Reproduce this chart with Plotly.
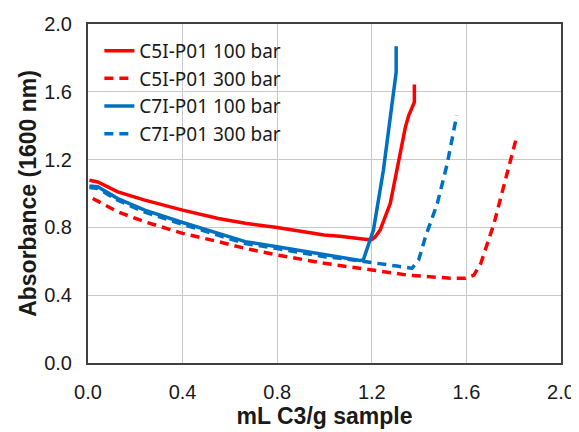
import plotly.graph_objects as go

# C5I-P01 100 bar
c5_100_x = [0.006, 0.041, 0.126, 0.24, 0.4, 0.551, 0.665, 0.8, 0.998, 1.065, 1.18, 1.2, 1.215, 1.235, 1.278, 1.313, 1.342, 1.356, 1.38, 1.38]
c5_100_y = [1.078, 1.068, 1.01, 0.961, 0.902, 0.853, 0.824, 0.8, 0.755, 0.748, 0.728, 0.728, 0.745, 0.784, 0.941, 1.176, 1.392, 1.46, 1.539, 1.643]
# C5I-P01 300 bar
c5_300_x = [0.02, 0.126, 0.24, 0.4, 0.551, 0.665, 0.8, 1.0, 1.2, 1.306, 1.349, 1.533, 1.597, 1.632, 1.661, 1.717, 1.774, 1.813]
c5_300_y = [0.971, 0.892, 0.833, 0.765, 0.716, 0.676, 0.637, 0.588, 0.549, 0.529, 0.519, 0.5, 0.5, 0.519, 0.588, 0.824, 1.137, 1.337]
# C7I-P01 100 bar
c7_100_x = [0.006, 0.041, 0.126, 0.24, 0.4, 0.551, 0.665, 0.8, 1.0, 1.15, 1.164, 1.179, 1.207, 1.249, 1.285, 1.303, 1.303]
c7_100_y = [1.045, 1.04, 0.97, 0.902, 0.829, 0.765, 0.716, 0.686, 0.637, 0.605, 0.608, 0.666, 0.784, 1.137, 1.51, 1.715, 1.868]
# C7I-P01 300 bar
c7_300_x = [0.006, 0.041, 0.126, 0.24, 0.4, 0.551, 0.665, 0.8, 1.0, 1.065, 1.207, 1.306, 1.37, 1.398, 1.427, 1.477, 1.519, 1.559]
c7_300_y = [1.035, 1.03, 0.96, 0.89, 0.818, 0.755, 0.705, 0.675, 0.627, 0.618, 0.588, 0.572, 0.559, 0.608, 0.745, 0.941, 1.176, 1.46]

x_ticks = [0.0, 0.4, 0.8, 1.2, 1.6, 2.0]
y_ticks = [0.0, 0.4, 0.8, 1.2, 1.6, 2.0]

RED = "#FF0000"
BLUE = "#0070C0"
DASH = "9px,6px"
TXT = "#1a1a1a"

fig = go.Figure()
fig.add_trace(go.Scatter(x=c5_100_x, y=c5_100_y, mode="lines", name="C5I-P01 100 bar",
                         line=dict(color=RED, width=3.5)))
fig.add_trace(go.Scatter(x=c5_300_x, y=c5_300_y, mode="lines", name="C5I-P01 300 bar",
                         line=dict(color=RED, width=3.5, dash=DASH)))
fig.add_trace(go.Scatter(x=c7_300_x, y=c7_300_y, mode="lines", name="C7I-P01 300 bar",
                         line=dict(color=BLUE, width=3.5, dash=DASH), showlegend=False))
fig.add_trace(go.Scatter(x=c7_100_x, y=c7_100_y, mode="lines", name="C7I-P01 100 bar",
                         line=dict(color=BLUE, width=3.5)))
fig.add_trace(go.Scatter(x=[None], y=[None], mode="lines", name="C7I-P01 300 bar",
                         line=dict(color=BLUE, width=3.5, dash=DASH)))

axis_common = dict(
    automargin=False,
    showgrid=True, gridcolor="#C8C8C8", gridwidth=1,
    showline=True, linecolor="#404040", linewidth=2, mirror=True,
    zeroline=False, ticks="", tickformat=".1f",
    tickfont=dict(family="Arial", size=20, color=TXT),
)

# the page body adds an 8px margin, so the figure is sized to fit the window
fig.update_layout(
    width=571, height=424,
    margin=dict(l=80, r=18, t=16, b=69, autoexpand=False),
    paper_bgcolor="white", plot_bgcolor="white",
    showlegend=True,
    legend=dict(x=0.024, y=0.977, xanchor="left", yanchor="top",
                bgcolor="rgba(0,0,0,0)", borderwidth=0,
                font=dict(family="Noto Sans", size=19, color=TXT),
                tracegroupgap=0),
    xaxis=dict(range=[0, 2.0], tickvals=x_ticks, ticklabelstandoff=10, **axis_common,
               title=dict(text="<b>mL C3/g sample</b>", standoff=1,
                          font=dict(family="Arial", size=23, color=TXT))),
    yaxis=dict(range=[0, 2.0], tickvals=y_ticks, ticklabelstandoff=10, **axis_common,
               title=dict(text="<b>Absorbance (1600 nm)</b>", standoff=1,
                          font=dict(family="Arial", size=23, color=TXT))),
)

fig.write_html("out.html")
